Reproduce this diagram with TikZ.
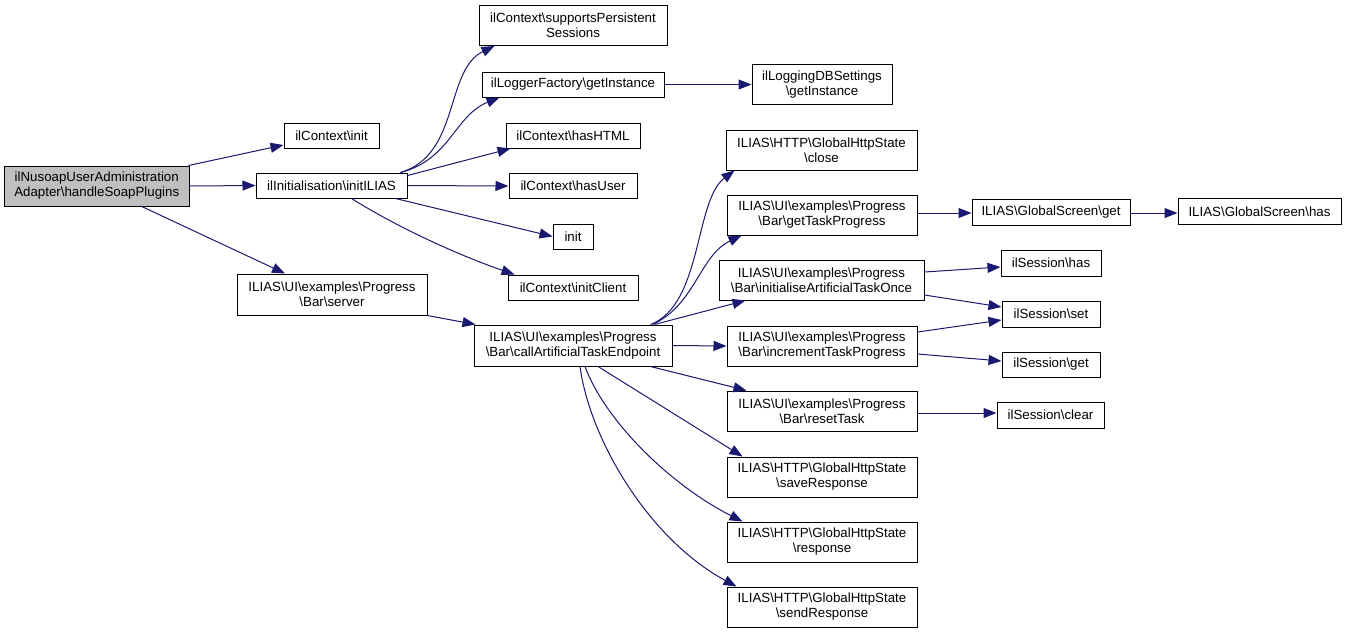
\documentclass[tikz,border=0pt]{standalone}
\usepackage{fontspec}
\setmainfont{Liberation Sans}
\usetikzlibrary{arrows.meta,calc}
\definecolor{edgec}{HTML}{191970}
\definecolor{rootc}{HTML}{BFBFBF}
\def\bsl{\textbackslash}
\begin{document}
\begin{tikzpicture}[x=1pt,y=-1pt,
  box/.style={draw=black,line width=1pt,fill=white,inner sep=0pt,align=center,
    font=\fontsize{13.3}{15}\selectfont},
  root/.style={box,fill=rootc},
  edge/.style={draw=edgec,line width=1pt,-{Triangle[length=13pt,width=10pt]}}]
\useasboundingbox (0,0) rectangle (1347,633);
\fill[white] (0,0) rectangle (1347,633);

\node[root,minimum width=184.5pt,minimum height=40pt] (n1) at (96.75,186) {ilNusoapUserAdministration\\Adapter\bsl handleSoapPlugins};
\node[box,minimum width=95pt,minimum height=25pt] (n2) at (331.5,135.5) {ilContext\bsl init};
\node[box,minimum width=151pt,minimum height=25pt] (n3) at (331.5,185.5) {ilInitialisation\bsl initILIAS};
\node[box,minimum width=190pt,minimum height=41pt] (n4) at (332,294.5) {ILIAS\bsl UI\bsl examples\bsl Progress\\\bsl Bar\bsl server};
\node[box,minimum width=188pt,minimum height=40pt] (n5) at (573,25.5) {ilContext\bsl supportsPersistent\\Sessions};
\node[box,minimum width=182pt,minimum height=25pt] (n6) at (573,84.5) {ilLoggerFactory\bsl getInstance};
\node[box,minimum width=134pt,minimum height=25pt] (n7) at (573,135.5) {ilContext\bsl hasHTML};
\node[box,minimum width=128pt,minimum height=25pt] (n8) at (573,186) {ilContext\bsl hasUser};
\node[box,minimum width=40pt,minimum height=25pt] (n9) at (573,236.5) {init};
\node[box,minimum width=130pt,minimum height=25pt] (n10) at (573,287.5) {ilContext\bsl initClient};
\node[box,minimum width=140pt,minimum height=40pt] (n11) at (822,84.5) {ilLoggingDBSettings\\\bsl getInstance};
\node[box,minimum width=198pt,minimum height=41pt] (n12) at (573,345.5) {ILIAS\bsl UI\bsl examples\bsl Progress\\\bsl Bar\bsl callArtificialTaskEndpoint};
\node[box,minimum width=191pt,minimum height=40pt] (n13) at (821.5,150) {ILIAS\bsl HTTP\bsl GlobalHttpState\\\bsl close};
\node[box,minimum width=190pt,minimum height=40pt] (n14) at (822,215) {ILIAS\bsl UI\bsl examples\bsl Progress\\\bsl Bar\bsl getTaskProgress};
\node[box,minimum width=205pt,minimum height=40pt] (n15) at (821.5,280) {ILIAS\bsl UI\bsl examples\bsl Progress\\\bsl Bar\bsl initialiseArtificialTaskOnce};
\node[box,minimum width=190pt,minimum height=40pt] (n16) at (822,346) {ILIAS\bsl UI\bsl examples\bsl Progress\\\bsl Bar\bsl incrementTaskProgress};
\node[box,minimum width=190pt,minimum height=40pt] (n17) at (822,411) {ILIAS\bsl UI\bsl examples\bsl Progress\\\bsl Bar\bsl resetTask};
\node[box,minimum width=190pt,minimum height=40pt] (n18) at (822,477) {ILIAS\bsl HTTP\bsl GlobalHttpState\\\bsl saveResponse};
\node[box,minimum width=190pt,minimum height=40pt] (n19) at (822,542) {ILIAS\bsl HTTP\bsl GlobalHttpState\\\bsl response};
\node[box,minimum width=190pt,minimum height=40pt] (n20) at (822,607) {ILIAS\bsl HTTP\bsl GlobalHttpState\\\bsl sendResponse};
\node[box,minimum width=158pt,minimum height=26pt] (n21) at (1051,212) {ILIAS\bsl GlobalScreen\bsl get};
\node[box,minimum width=163pt,minimum height=26pt] (n22) at (1259.5,211.5) {ILIAS\bsl GlobalScreen\bsl has};
\node[box,minimum width=100pt,minimum height=26pt] (n23) at (1051,263) {ilSession\bsl has};
\node[box,minimum width=98pt,minimum height=26pt] (n24) at (1051,314) {ilSession\bsl set};
\node[box,minimum width=98pt,minimum height=25pt] (n25) at (1051,364.5) {ilSession\bsl get};
\node[box,minimum width=107pt,minimum height=26pt] (n26) at (1050.5,415) {ilSession\bsl clear};

\draw[edge] ($(n1.north east)+(-1,0)$) -- ($(n2.west)+(0,9.5)$);
\draw[edge] (n1.east) -- (n3.west);
\draw[edge] ($(n1.south)+(45,0)$) -- ($(n4.north)+(-47,0)$);
\draw[edge] ($(n3.north east)+(-7,0)$) .. controls +(60,-18) and +(-50,24) .. ($(n5.south west)+(16,0)$);
\draw[edge] ($(n3.north east)+(-7,0)$) .. controls +(50,-13) and +(-45,18) .. ($(n6.south west)+(18,0)$);
\draw[edge] ($(n3.east)+(0,-10)$) -- ($(n7.south west)+(5,0)$);
\draw[edge] (n3.east) -- (n8.west);
\draw[edge] ($(n3.south east)+(-12,0)$) -- (n9.west);
\draw[edge] ($(n3.south)+(20,0)$) .. controls +(48,30) and +(-55,-19) .. ($(n10.north west)+(7,0)$);
\draw[edge] (n6.east) -- (n11.west);
\draw[edge] (n4.south east) -- ($(n12.north west)+(2,0)$);
\draw[edge] ($(n12.north east)+(-22,0)$) .. controls +(52,-20) and +(-40,30) .. ($(n13.south west)+(9,0)$);
\draw[edge] ($(n12.north east)+(-20,0)$) .. controls +(43,-20) and +(-42,20) .. ($(n14.south west)+(15,0)$);
\draw[edge] ($(n12.north east)+(-18,0)$) -- ($(n15.south west)+(27,0)$);
\draw[edge] (n12.east) -- (n16.west);
\draw[edge] ($(n12.south east)+(-22,0)$) -- ($(n17.north west)+(20,0)$);
\draw[edge] ($(n12.south)+(25,0)$) -- ($(n18.north west)+(16,0)$);
\draw[edge] ($(n12.south)+(12,0)$) .. controls +(20,54) and +(-73,-37) .. ($(n19.north west)+(16,0)$);
\draw[edge] ($(n12.south)+(7,0)$) .. controls +(10,74) and +(-87,-47) .. ($(n20.north west)+(10,0)$);
\draw[edge] ($(n14.east)+(0,-2)$) -- ($(n21.west)+(0,1)$);
\draw[edge] ($(n21.east)+(0,1)$) -- ($(n22.west)+(0,1.5)$);
\draw[edge] ($(n15.east)+(0,-8)$) -- ($(n23.west)+(0,4)$);
\draw[edge] ($(n15.east)+(0,15)$) -- ($(n24.west)+(0,-7)$);
\draw[edge] ($(n16.east)+(0,-14)$) -- ($(n24.west)+(0,6)$);
\draw[edge] ($(n16.east)+(0,8)$) -- ($(n25.west)+(0,-3.5)$);
\draw[edge] ($(n17.east)+(0,2)$) -- ($(n26.west)+(0,-2)$);
\end{tikzpicture}
\end{document}
